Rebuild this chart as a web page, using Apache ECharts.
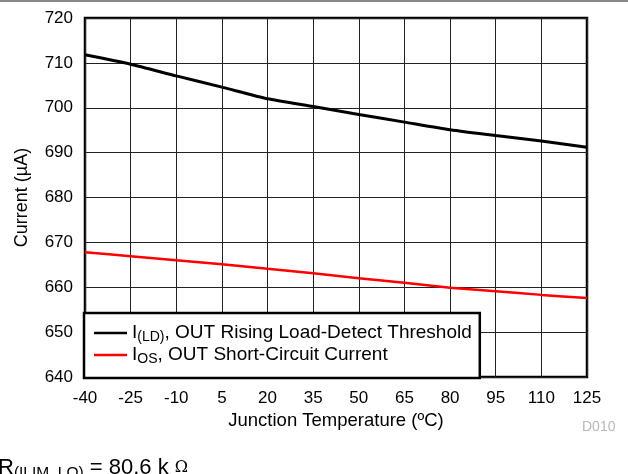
<!DOCTYPE html>
<html><head><meta charset="utf-8">
<script src="https://cdn.jsdelivr.net/npm/echarts@6/dist/echarts.min.js"></script>
<style>html,body{margin:0;padding:0;background:#fff}#c{width:628px;height:474px}</style>
</head><body><div id="c"></div>
<script>
const temps = [-40, -25, -10, 5, 20, 35, 50, 65, 80, 95, 110, 125];
const iLD = [711.8, 709.7, 707.1, 704.6, 702.0, 700.3, 698.5, 696.8, 695.1, 693.8, 692.6, 691.2];
const iOS = [667.8, 666.9, 666.0, 665.1, 664.1, 663.1, 662.0, 661.0, 659.9, 659.1, 658.3, 657.6];
const xTicks = [-40, -25, -10, 5, 20, 35, 50, 65, 80, 95, 110, 125];
const yTicks = [640, 650, 660, 670, 680, 690, 700, 710, 720];

const font = 'Liberation Sans, Arial, sans-serif';
const chart = echarts.init(document.getElementById('c'));
chart.setOption({
  animation: false,
  textStyle: {fontFamily: font},
  grid: {left: 85, right: 41, top: 18, bottom: 97, show: true, borderColor: '#000', borderWidth: 2.5, backgroundColor: 'transparent'},
  xAxis: {
    type: 'value', min: -40, max: 125, interval: 15,
    axisLine: {show: false}, axisTick: {show: false},
    axisLabel: {color: '#000', fontSize: 17, margin: 13, fontFamily: font},
    splitLine: {show: true, lineStyle: {color: '#222', width: 1}},
    name: 'Junction Temperature (ºC)', nameLocation: 'middle', nameGap: 31,
    nameTextStyle: {color: '#000', fontSize: 18.5, fontFamily: font}
  },
  yAxis: {
    type: 'value', min: 640, max: 720, interval: 10,
    axisLine: {show: false}, axisTick: {show: false},
    axisLabel: {color: '#000', fontSize: 17, margin: 12, fontFamily: font},
    splitLine: {show: true, lineStyle: {color: '#222', width: 1}},
    name: 'Current (µA)', nameLocation: 'middle', nameGap: 54, nameRotate: 90,
    nameTextStyle: {color: '#000', fontSize: 18, fontFamily: font}
  },
  legend: {
    left: 84, top: 313, orient: 'vertical',
    backgroundColor: '#fff', borderColor: '#000', borderWidth: 2.5,
    padding: [9, 8, 12, 10], itemGap: 0, itemWidth: 33, itemHeight: 21,
    icon: 'path://M0,0 L33,0 L33,2.5 L0,2.5 Z',
    textStyle: {color: '#000', fontSize: 19, fontFamily: font,
      rich: {
        m: {fontSize: 19, lineHeight: 21, color: '#000', fontFamily: font},
        s: {fontSize: 14, lineHeight: 21, color: '#000', fontFamily: font, padding: [8, 0, 0, 0]}
      }},
    formatter: function (n) {
      if (n === 'LD') return '{m|I}{s|(LD)}{m|, OUT Rising Load-Detect Threshold}';
      return '{m|I}{s|OS}{m|, OUT Short-Circuit Current}';
    }
  },
  series: [
    {name: 'LD', type: 'line', data: temps.map((t, i) => [t, iLD[i]]), showSymbol: false, smooth: 0.2,
     lineStyle: {color: '#000', width: 3}, itemStyle: {color: '#000'}},
    {name: 'OS', type: 'line', data: temps.map((t, i) => [t, iOS[i]]), showSymbol: false, smooth: 0.2,
     lineStyle: {color: '#ff0000', width: 2.5}, itemStyle: {color: '#ff0000'}}
  ],
  graphic: [
    {type: 'rect', shape: {x: 0, y: 0, width: 628, height: 2}, style: {fill: '#888'}},
    {type: 'text', left: 582, top: 420, style: {text: 'D010', fill: '#b8b8b8', fontSize: 14, fontFamily: font}},
    {type: 'text', left: -2, top: 457, style: {
      text: '{m|R}{s|(ILIM_LO)}{m| = 80.6 k }{o|Ω}',
      rich: {
        m: {fontSize: 22, fill: '#000', fontFamily: font},
        s: {fontSize: 15.5, fill: '#000', fontFamily: font, padding: [9, 0, 0, 0]},
        o: {fontSize: 16, fill: '#000', fontFamily: 'DejaVu Serif, serif'}
      }}}
  ]
});
</script></body></html>
